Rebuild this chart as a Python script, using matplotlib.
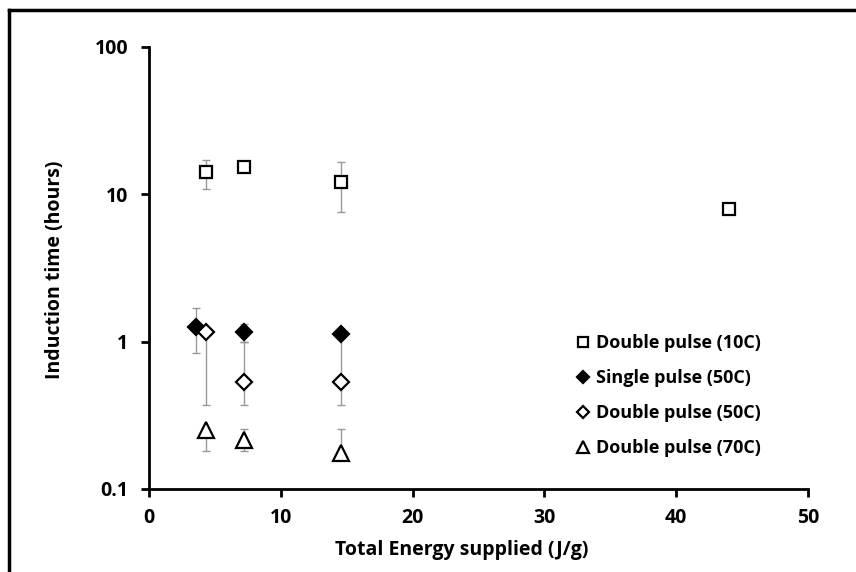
import numpy as np
import matplotlib.pyplot as plt
from matplotlib.lines import Line2D

plt.rcParams['font.family'] = ['Open Sans', 'DejaVu Sans']
plt.rcParams['font.weight'] = 'bold'

# Datos
x_dp10 = [4.3, 7.2, 14.6, 44.0]
y_dp10 = [14.1, 15.3, 12.1, 8.0]
lo_dp10 = [10.8, 15.0, 7.6, 7.9]
hi_dp10 = [17.0, 15.6, 16.5, 8.1]

x_sp50 = [3.6, 7.2, 14.6]
y_sp50 = [1.26, 1.17, 1.12]
lo_sp50 = [0.84, 1.0, 1.12]
hi_sp50 = [1.70, 1.32, 1.12]

x_dp50 = [4.3, 7.2, 14.6]
y_dp50 = [1.17, 0.535, 0.535]
lo_dp50 = [0.373, 0.373, 0.373]
hi_dp50 = [1.17, 1.0, 1.1]

x_dp70 = [4.3, 7.2, 14.6]
y_dp70 = [0.252, 0.215, 0.176]
lo_dp70 = [0.18, 0.18, 0.176]
hi_dp70 = [0.252, 0.256, 0.256]

series = [
    ('Double pulse (10C)', x_dp10, y_dp10, lo_dp10, hi_dp10, 's', 'white', 9),
    ('Single pulse (50C)', x_sp50, y_sp50, lo_sp50, hi_sp50, 'D', 'black', 8),
    ('Double pulse (50C)', x_dp50, y_dp50, lo_dp50, hi_dp50, 'D', 'white', 8),
    ('Double pulse (70C)', x_dp70, y_dp70, lo_dp70, hi_dp70, '^', 'white', 11),
]

fig = plt.figure(figsize=(8.56, 5.72), dpi=100)
ax = fig.add_axes([149 / 856, 1 - 489 / 572, (808 - 149) / 856, (489 - 47) / 572])

for label, x, y, lo, hi, m, fc, ms in series:
    y = np.array(y)
    err = [y - np.array(lo), np.array(hi) - y]
    ax.errorbar(x, y, yerr=err, fmt='none', ecolor='#999999', elinewidth=1,
                capsize=3, capthick=1, zorder=2)
    ax.plot(x, y, linestyle='none', marker=m, markersize=ms, markerfacecolor=fc,
            markeredgecolor='black', markeredgewidth=1.6, label=label, zorder=3)

ax.set_yscale('log')
ax.set_xlim(0, 50)
ax.set_ylim(0.1, 100)
ax.set_yticks([0.1, 1, 10, 100])
ax.set_yticklabels(['0.1', '1', '10', '100'])
ax.minorticks_off()
ax.set_xticks([0, 10, 20, 30, 40, 50])

for s in ['top', 'right']:
    ax.spines[s].set_visible(False)
for s in ['left', 'bottom']:
    ax.spines[s].set_linewidth(2)
ax.tick_params(axis='both', direction='out', length=6, width=2, labelsize=14)
ax.tick_params(axis='x', pad=8)
ax.tick_params(axis='y', pad=9)
for lbl in ax.get_xticklabels() + ax.get_yticklabels():
    lbl.set_fontweight('bold')

ax.set_xlabel('Total Energy supplied (J/g)', fontsize=14, fontweight='bold')
ax.xaxis.set_label_coords(0.475, -0.115)

# Etiqueta del eje y, colocada en coordenadas de figura
fig.text(55 / 856, 1 - 270 / 572, 'Induction time (hours)', rotation=90,
         ha='center', va='center', fontsize=14, fontweight='bold')

leg = ax.legend(loc='lower left', bbox_to_anchor=(0.63, 0.055), frameon=False,
                fontsize=13, handletextpad=0.05, labelspacing=0.95,
                markerscale=0.75, handlelength=1.3, borderaxespad=0)
for t in leg.get_texts():
    t.set_fontweight('bold')

# Marco de la figura (solo arriba e izquierda visibles)
fig.lines.append(Line2D([9 / 856, 9 / 856], [0, 1 - 10 / 572], transform=fig.transFigure,
                        color='black', linewidth=2.5))
fig.lines.append(Line2D([9 / 856, 1], [1 - 10 / 572, 1 - 10 / 572], transform=fig.transFigure,
                        color='black', linewidth=2.5))

fig.savefig('out.png', dpi=100)
